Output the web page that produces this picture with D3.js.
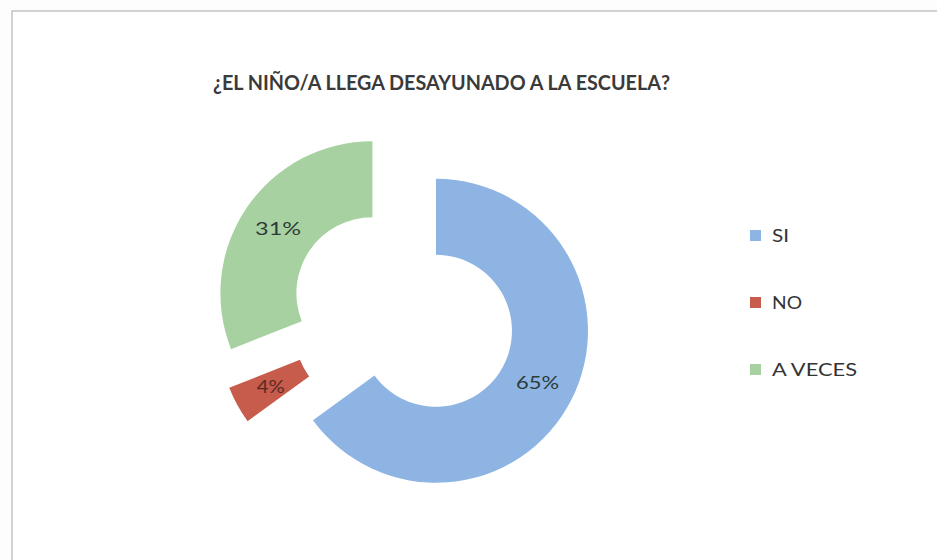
<!DOCTYPE html>
<html>
<head>
<meta charset="utf-8">
<script src="https://cdn.jsdelivr.net/npm/d3@7"></script>
<style>
  html, body { margin: 0; padding: 0; background: #ffffff; }
  svg { display: block; }
</style>
</head>
<body>
<svg id="chart" width="937" height="560"></svg>
<script>
const title = "¿EL NIÑO/A LLEGA DESAYUNADO A LA ESCUELA?";
const categories = ["SI", "NO", "A VECES"];
const values = [65, 4, 31];
const valueLabels = ["65%", "4%", "31%"];
const colors = ["#8db4e2", "#c75b4c", "#a7d1a0"];

const svg = d3.select("#chart");
const W = 937, H = 560;

svg.append("rect").attr("width", W).attr("height", H).attr("fill", "#fdfdfd");
svg.append("rect")
  .attr("x", 12).attr("y", 11).attr("width", 940).attr("height", 560)
  .attr("fill", "#ffffff").attr("stroke", "#c4c4c4").attr("stroke-width", 1.5);

svg.append("text")
  .attr("x", 441.5).attr("y", 90)
  .attr("text-anchor", "middle")
  .attr("font-family", "Lato, 'Open Sans', sans-serif")
  .attr("font-weight", "bold")
  .attr("font-size", 20)
  .attr("fill", "#3a3a3a")
  .attr("textLength", 457)
  .attr("lengthAdjust", "spacingAndGlyphs")
  .text(title);

const cx = 403, cy = 314, outerR = 152, innerR = 76, explode = 37;

const data = categories.map((c, i) => ({ cat: c, value: values[i], label: valueLabels[i], color: colors[i] }));
const pie = d3.pie().sort(null).value(d => d.value).startAngle(0).endAngle(2 * Math.PI);
const arc = d3.arc().innerRadius(innerR).outerRadius(outerR);
const arcs = pie(data);

const g = svg.append("g").attr("transform", `translate(${cx},${cy})`);

const slices = g.selectAll("g.slice").data(arcs).enter().append("g")
  .attr("class", "slice")
  .attr("transform", d => {
    const a = (d.startAngle + d.endAngle) / 2;
    return `translate(${explode * Math.sin(a)},${-explode * Math.cos(a)})`;
  });

slices.append("path")
  .attr("d", arc)
  .attr("fill", d => d.data.color);

const labelWidths = { "65%": 43, "4%": 28, "31%": 46 };
slices.append("text")
  .attr("x", d => arc.centroid(d)[0])
  .attr("y", d => arc.centroid(d)[1] + 6)
  .attr("text-anchor", "middle")
  .attr("font-family", "Lato, 'Open Sans', sans-serif")
  .attr("font-size", 17)
  .attr("fill", d => d.index === 1 ? "#5a2a22" : "#2e3b3a")
  .attr("textLength", d => labelWidths[d.data.label])
  .attr("lengthAdjust", "spacingAndGlyphs")
  .text(d => d.data.label);

const legendWidths = { "SI": 17, "NO": 30, "A VECES": 85 };
const legend = svg.append("g");
const legendY = d3.scalePoint().domain(categories).range([242, 376]);
const items = legend.selectAll("g").data(data).enter().append("g")
  .attr("transform", d => `translate(750,${legendY(d.cat)})`);
items.append("rect")
  .attr("x", 0).attr("y", -12).attr("width", 11).attr("height", 11)
  .attr("fill", d => d.color);
items.append("text")
  .attr("x", 22).attr("y", 0)
  .attr("font-family", "Lato, 'Open Sans', sans-serif")
  .attr("font-size", 18)
  .attr("fill", "#333333")
  .attr("textLength", d => legendWidths[d.cat])
  .attr("lengthAdjust", "spacingAndGlyphs")
  .text(d => d.cat);
</script>
</body>
</html>
